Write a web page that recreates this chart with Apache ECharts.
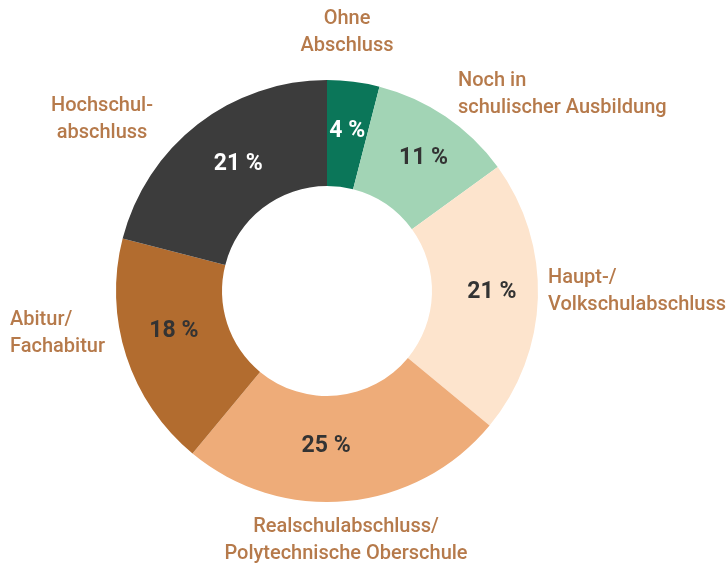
<!DOCTYPE html>
<html><head><meta charset="utf-8">
<script src="https://cdn.jsdelivr.net/npm/echarts@6/dist/echarts.min.js"></script>
<style>html,body{margin:0;padding:0;background:#fff}#c{width:728px;height:565px}</style>
</head><body><div id="c"></div>
<script>
const categories = ['Ohne\nAbschluss', 'Noch in\nschulischer Ausbildung', 'Haupt-/\nVolkschulabschluss', 'Realschulabschluss/\nPolytechnische Oberschule', 'Abitur/\nFachabitur', 'Hochschul-\nabschluss'];
const values = [4, 11, 21, 25, 18, 21];
const colors = ['#0b7659', '#a2d4b5', '#fde4cd', '#eeac79', '#b26c2f', '#3c3c3c'];
const innerTextColors = ['#ffffff', '#333333', '#333333', '#333333', '#333333', '#ffffff'];
// label anchor placement (text placement only)
const outerLabelPos = [
  {x: 347, y: 32, align: 'center'},
  {x: 458, y: 94, align: 'left'},
  {x: 548, y: 291, align: 'left'},
  {x: 346, y: 540, align: 'center'},
  {x: 10, y: 333, align: 'left'},
  {x: 102, y: 119, align: 'center'}
];
const innerLabelShift = [[0,0],[6,0],[4,-4],[-16,-5],[0,-10],[10,0]];

const center = [327, 291];
const radius = [105, 211];
const chart = echarts.init(document.getElementById('c'));
chart.setOption({
  animation: false,
  series: [
    {
      type: 'pie', center, radius, startAngle: 90, clockwise: true,
      silent: true,
      data: values.map((v, i) => ({value: v, name: categories[i], itemStyle: {color: colors[i]},
        label: {color: innerTextColors[i]}})),
      label: {show: true, position: 'inside', formatter: p => p.value + ' %',
        fontFamily: 'Roboto', fontWeight: 'bold', fontSize: 23},
      labelLine: {show: false},
      labelLayout: p => ({dx: innerLabelShift[p.dataIndex][0], dy: innerLabelShift[p.dataIndex][1]})
    },
    {
      type: 'pie', center, radius, startAngle: 90, clockwise: true,
      silent: true,
      itemStyle: {color: 'rgba(0,0,0,0)'},
      data: values.map((v, i) => ({value: v, name: categories[i]})),
      label: {show: true, position: 'outside', formatter: p => p.name, overflow: 'none',
        edgeDistance: 0, bleedMargin: 0,
        fontFamily: 'Roboto', fontWeight: 500, fontSize: 20, lineHeight: 27, color: '#b67a4b'},
      labelLine: {show: false},
      labelLayout: p => ({x: outerLabelPos[p.dataIndex].x, y: outerLabelPos[p.dataIndex].y,
        align: outerLabelPos[p.dataIndex].align, verticalAlign: 'middle', hideOverlap: false})
    }
  ]
});
</script></body></html>
